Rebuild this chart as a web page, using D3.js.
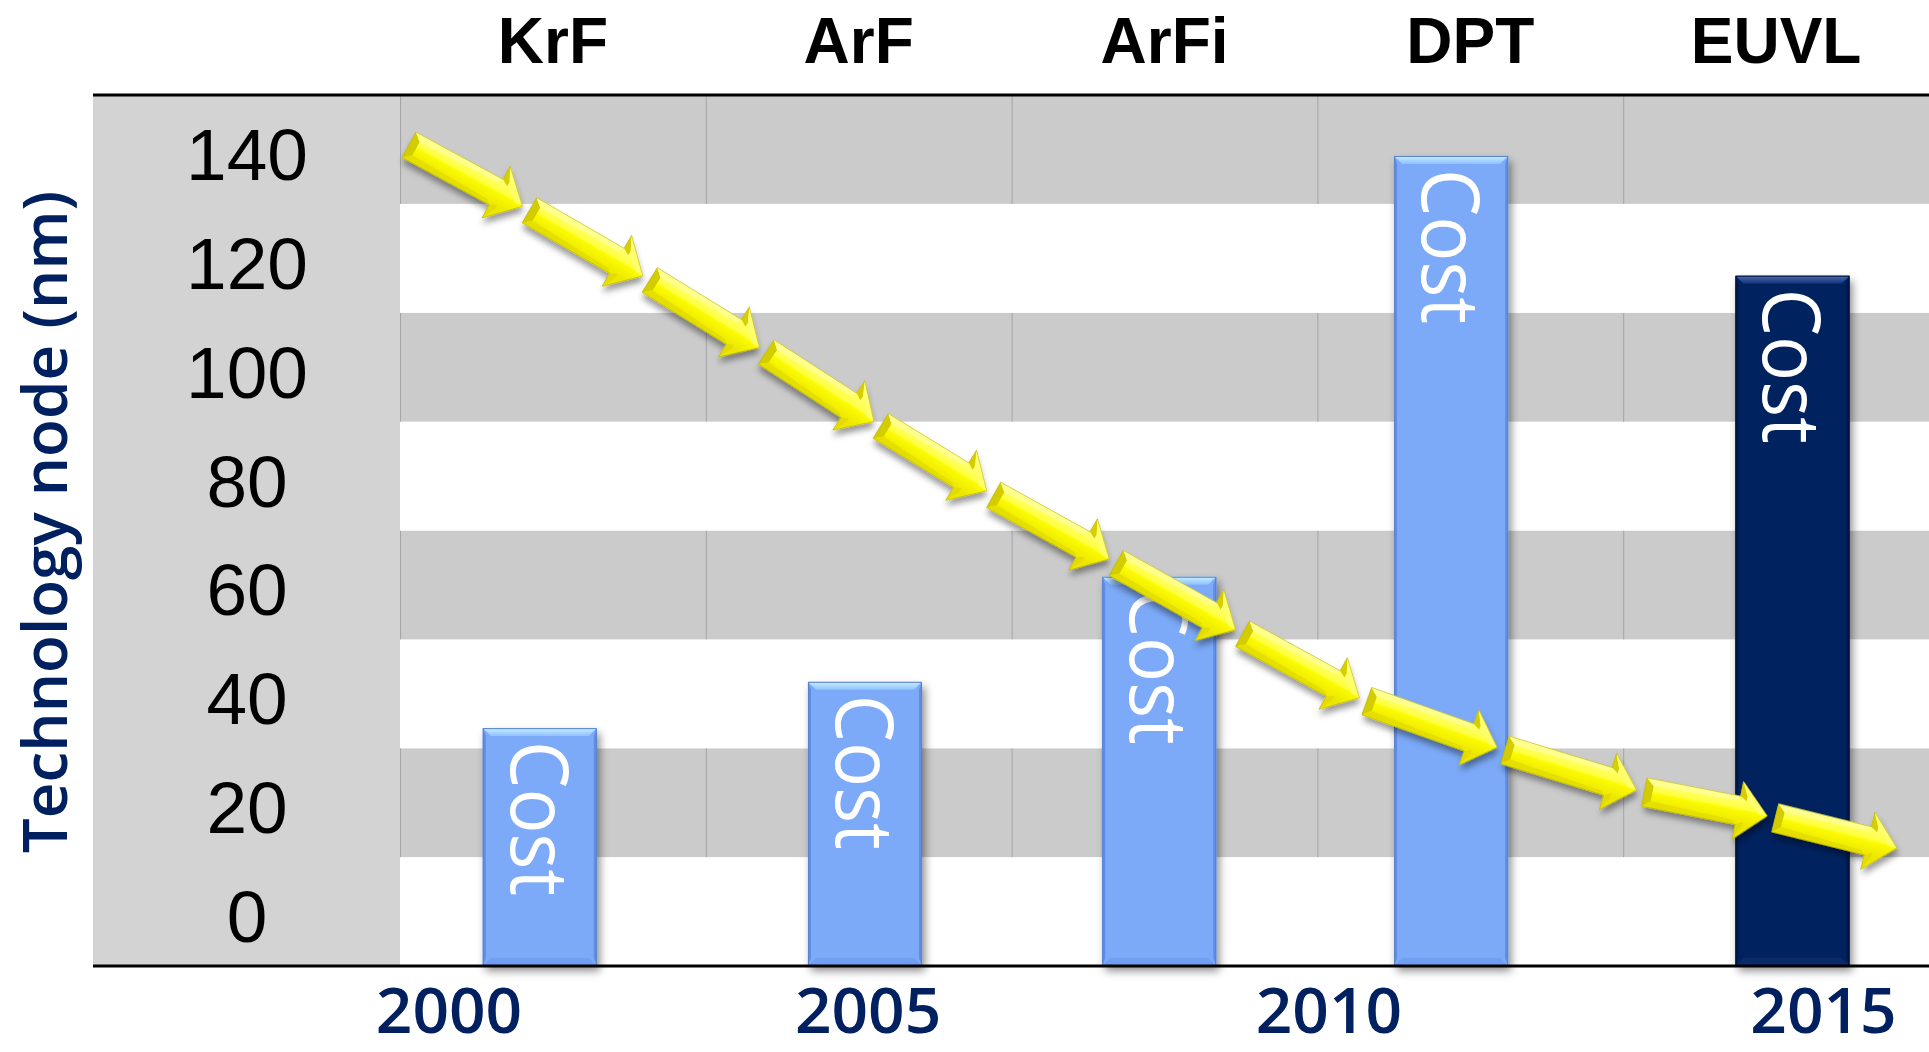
<!DOCTYPE html>
<html>
<head>
<meta charset="utf-8">
<script src="https://cdn.jsdelivr.net/npm/d3@7"></script>
<style>
  html, body { margin: 0; padding: 0; background: #ffffff; }
  svg { display: block; }
</style>
</head>
<body>
<div id="chart"></div>
<script>
// ---------------- data ----------------
const techs = ["KrF", "ArF", "ArFi", "DPT", "EUVL"];
const barYears = [2001.14, 2004.97, 2008.21, 2011.27, 2014.7];
const barCost = [33.7, 42.2, 61.5, 138.8, 116.8];
const barLabel = "Cost";
const yTicks = [0, 20, 40, 60, 80, 100, 120, 140];
const yearTicks = [2000, 2005, 2010, 2015];
const arrowYears = [1999.45, 2000.97, 2002.43, 2003.8, 2005.11, 2006.37, 2007.71, 2009.06, 2010.36, 2011.78, 2013.19, 2014.49, 2015.76];
const arrowNodes = [141.2, 129.2, 116.4, 103.2, 89.6, 76.9, 64.4, 51.4, 38.9, 29.9, 22.1, 17.4, 11.5];
const yTitle = "Technology node (nm)";

// ---------------- layout ----------------
const W = 1929, H = 1052;
const panelLeft = 93, plotLeft = 400, plotRight = 1929, plotTop = 95, plotBottom = 966;
const navy = "#002060";
const epoch = 1990;

const svg = d3.select("#chart").append("svg").attr("width", W).attr("height", H);
const defs = svg.append("defs");

const y = d3.scaleLinear().domain([-10, 150]).range([plotBottom, plotTop]);
const col = d3.scaleBand().domain(techs).range([plotLeft, plotRight]).paddingInner(0).paddingOuter(0);
// the year axis of the slide is slightly stretched towards the right: power scale on years since epoch
const xs = d3.scalePow().exponent(1.28).domain([2000 - epoch, 2015 - epoch]).range([448.5, 1823]);
const x = t => xs(t - epoch);

// filters
const fBar = defs.append("filter").attr("id", "barShadow").attr("x", "-30%").attr("y", "-10%").attr("width", "160%").attr("height", "130%");
fBar.append("feDropShadow").attr("dx", 3).attr("dy", 5).attr("stdDeviation", 4).attr("flood-color", "#000").attr("flood-opacity", 0.45);
const fArr = defs.append("filter").attr("id", "arrShadow").attr("x", "-20%").attr("y", "-50%").attr("width", "140%").attr("height", "200%");
fArr.append("feDropShadow").attr("dx", 3).attr("dy", 5).attr("stdDeviation", 3).attr("flood-color", "#000").attr("flood-opacity", 0.4);

// gradients
const gArr = defs.append("linearGradient").attr("id", "arrGrad").attr("gradientUnits", "userSpaceOnUse")
  .attr("x1", 0).attr("y1", -14.5).attr("x2", 0).attr("y2", 14.5);
[[0, "#ffff7a"], [0.42, "#ffff40"], [0.5, "#fbfb00"], [1, "#ece600"]].forEach(([o, c]) =>
  gArr.append("stop").attr("offset", o).attr("stop-color", c));
const gTopL = defs.append("linearGradient").attr("id", "topLight").attr("x1", 0).attr("y1", 0).attr("x2", 0).attr("y2", 1);
gTopL.append("stop").attr("offset", 0).attr("stop-color", "#c8f0ff");
gTopL.append("stop").attr("offset", 1).attr("stop-color", "#8ec0ff");
const gTopD = defs.append("linearGradient").attr("id", "topDark").attr("x1", 0).attr("y1", 0).attr("x2", 0).attr("y2", 1);
gTopD.append("stop").attr("offset", 0).attr("stop-color", "#4a6cb0");
gTopD.append("stop").attr("offset", 1).attr("stop-color", "#12307a");

// ---------------- background ----------------
svg.append("rect").attr("x", panelLeft).attr("y", plotTop).attr("width", plotLeft - panelLeft).attr("height", plotBottom - plotTop).attr("fill", "#d3d3d3");

const bandStarts = d3.range(-10, 150, 20);
bandStarts.forEach((v, i) => {
  const gray = i % 2 === 1;
  const yy0 = y(v + 20), yy1 = y(v);
  svg.append("rect").attr("x", plotLeft).attr("y", yy0).attr("width", plotRight - plotLeft).attr("height", yy1 - yy0)
    .attr("fill", gray ? "#cbcbcb" : "#ffffff");
  if (gray) {
    techs.forEach(t => {
      svg.append("line").attr("x1", col(t) + 0.5).attr("x2", col(t) + 0.5).attr("y1", yy0).attr("y2", yy1)
        .attr("stroke", "#a4a4a4").attr("stroke-width", 1);
    });
  }
});

// ---------------- y axis ----------------
const yAxisG = svg.append("g").attr("transform", "translate(247,0)")
  .call(d3.axisLeft(y).tickValues(yTicks).tickSize(0).tickPadding(0));
yAxisG.select(".domain").remove();
yAxisG.selectAll("text").attr("x", 0).attr("dy", "0.41em").attr("text-anchor", "middle")
  .attr("font-family", "'Liberation Sans', Arial, sans-serif").attr("font-size", 73).attr("fill", "#000");

svg.append("text").attr("transform", "translate(67,522) rotate(-90)").attr("text-anchor", "middle")
  .attr("font-family", "'Open Sans', sans-serif").attr("font-weight", 600).attr("font-size", 62)
  .attr("fill", navy).text(yTitle);

// ---------------- category axis (top) ----------------
const cAxisG = svg.append("g").attr("transform", "translate(0,63)")
  .call(d3.axisTop(col).tickSize(0).tickPadding(0));
cAxisG.select(".domain").remove();
cAxisG.selectAll("text").attr("y", 0).attr("dy", 0)
  .attr("font-family", "'Liberation Sans', Arial, sans-serif").attr("font-weight", "bold").attr("font-size", 64).attr("fill", "#000");

// ---------------- bars ----------------
const barW = 114, bev = 8;
const barsG = svg.append("g");
techs.forEach((t, i) => {
  const dark = t === "EUVL";
  const cx = x(barYears[i]);
  const x0 = cx - barW / 2, x1 = cx + barW / 2;
  const y0 = y(barCost[i]), y1 = y(-10);
  const g = barsG.append("g");
  g.append("rect").attr("x", x0).attr("y", y0).attr("width", barW).attr("height", y1 - y0)
    .attr("fill", dark ? "#05215f" : "#7baaf8").attr("filter", "url(#barShadow)");
  g.append("polygon").attr("points", [[x0, y0], [x0 + 3, y0 + bev], [x0 + 3, y1 - bev], [x0, y1]].join(" "))
    .attr("fill", dark ? "#021848" : "#5f8ee4");
  g.append("polygon").attr("points", [[x1, y0], [x1 - 3, y0 + bev], [x1 - 3, y1 - bev], [x1, y1]].join(" "))
    .attr("fill", dark ? "#021848" : "#5f8ee4");
  g.append("polygon").attr("points", [[x0, y1], [x1, y1], [x1 - bev, y1 - bev], [x0 + bev, y1 - bev]].join(" "))
    .attr("fill", dark ? "#0a2a6a" : "#6f9ff2");
  g.append("polygon").attr("points", [[x0, y0], [x1, y0], [x1 - bev, y0 + bev], [x0 + bev, y0 + bev]].join(" "))
    .attr("fill", dark ? "url(#topDark)" : "url(#topLight)");
  g.append("rect").attr("x", x0 + 0.5).attr("y", y0 + 0.5).attr("width", barW - 1).attr("height", y1 - y0 - 1)
    .attr("fill", "none").attr("stroke", dark ? "#01143d" : "#5a82cc").attr("stroke-width", 1);
  const cap = 58;
  g.append("text").attr("transform", `translate(${cx - cap / 2},${y0 + 13}) rotate(90)`)
    .attr("font-family", "'Open Sans', sans-serif").attr("font-size", 81).attr("fill", "#fff")
    .attr("textLength", 155).attr("lengthAdjust", "spacingAndGlyphs").text(barLabel);
});

// ---------------- arrows ----------------
const arrG = svg.append("g");
const sw = 14.5, hw = 29.5, hl = 30, gap = 4;
for (let i = 0; i < arrowYears.length - 1; i++) {
  const ax = x(arrowYears[i]), ay = y(arrowNodes[i]);
  const bx = x(arrowYears[i + 1]), by = y(arrowNodes[i + 1]);
  const len = Math.hypot(bx - ax, by - ay);
  const ang = Math.atan2(by - ay, bx - ax) * 180 / Math.PI;
  const L = len - 2 * gap;
  const ux = (bx - ax) / len, uy = (by - ay) / len;
  const sx = ax + ux * gap, sy = ay + uy * gap;
  const g = arrG.append("g").attr("transform", `translate(${sx},${sy}) rotate(${ang})`);
  const pts = [[0, -sw], [L - hl, -sw], [L - hl, -hw], [L, 0], [L - hl, hw], [L - hl, sw], [0, sw]];
  g.append("polygon").attr("points", pts.join(" ")).attr("fill", "url(#arrGrad)").attr("filter", "url(#arrShadow)");
  g.append("polygon").attr("points", [[0, -sw], [8, -sw + 7], [8, sw - 7], [0, sw]].join(" ")).attr("fill", "#d2cc00");
  g.append("polygon").attr("points", [[0, -sw], [L - hl, -sw], [L - hl - 4, -sw + 5], [8, -sw + 7]].join(" ")).attr("fill", "#ffff9a").attr("opacity", 0.75);
  g.append("polygon").attr("points", [[0, sw], [L - hl, sw], [L - hl - 4, sw - 4], [8, sw - 7]].join(" ")).attr("fill", "#e2dc00").attr("opacity", 0.8);
  g.append("polygon").attr("points", [[L - hl, -hw], [L - hl + 7, -hw + 14], [L - hl + 7, -sw + 4], [L - hl, -sw]].join(" ")).attr("fill", "#d6ce00");
  g.append("polygon").attr("points", [[L - hl, hw], [L - hl + 7, hw - 14], [L - hl + 7, sw - 4], [L - hl, sw]].join(" ")).attr("fill", "#e4dc00");
  g.append("polygon").attr("points", [[L - hl + 7, -hw + 14], [L - 9, 0], [L, 0], [L - hl, -hw]].join(" ")).attr("fill", "#ffff70").attr("opacity", 0.85);
  g.append("polygon").attr("points", pts.join(" ")).attr("fill", "none").attr("stroke", "#b0a800").attr("stroke-width", 0.7).attr("stroke-opacity", 0.7);
}

// ---------------- frame lines ----------------
svg.append("line").attr("x1", panelLeft).attr("x2", W).attr("y1", plotTop).attr("y2", plotTop).attr("stroke", "#000").attr("stroke-width", 3);
svg.append("line").attr("x1", panelLeft).attr("x2", W).attr("y1", plotBottom).attr("y2", plotBottom).attr("stroke", "#000").attr("stroke-width", 3);

// ---------------- year axis ----------------
const xAxisG = svg.append("g").attr("transform", `translate(0,${plotBottom})`)
  .call(d3.axisBottom(xs).tickValues(yearTicks.map(d => d - epoch)).tickFormat(d => String(d + epoch)).tickSize(0).tickPadding(0));
xAxisG.select(".domain").remove();
xAxisG.selectAll("text").attr("y", 67).attr("dy", 0)
  .attr("font-family", "'Open Sans', sans-serif").attr("font-weight", 600).attr("font-size", 64).attr("fill", navy);
</script>
</body>
</html>
